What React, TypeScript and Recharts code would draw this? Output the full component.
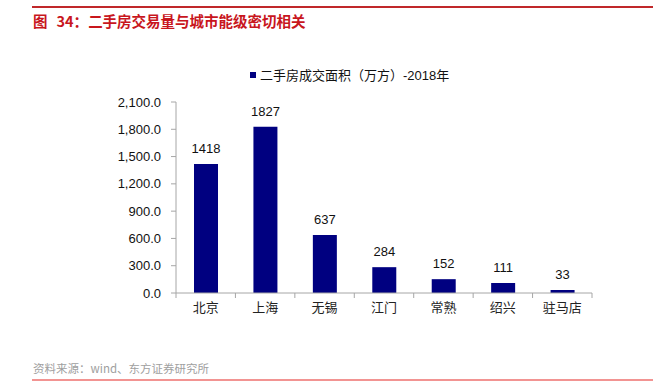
import { Bar, BarChart, LabelList, XAxis, YAxis } from 'recharts'

const cities = ['北京', '上海', '无锡', '江门', '常熟', '绍兴', '驻马店']
const areaValues = [1418, 1827, 637, 284, 152, 111, 33]
const yTicks = [0, 300, 600, 900, 1200, 1500, 1800, 2100]
const seriesName = '二手房成交面积（万方）-2018年'
const titleNo = '34：'
const titleText = '二手房交易量与城市能级密切相关'
const source = '资料来源：wind、东方证券研究所'

const data = cities.map((city, i) => ({ city, value: areaValues[i] }))

const axisColor = '#a6a6a6'
const barColor = '#000080'
const font = '"Liberation Sans", Arial, "Noto Sans CJK SC", sans-serif'
const cjkFont = '"Noto Sans CJK SC", sans-serif'

// category labels with tick marks on the band edges, like the original
function CityTick(props: any) {
  const { x, y, payload, index, width, visibleTicksCount } = props
  const half = width / visibleTicksCount / 2
  return (
    <g>
      <line x1={x - half} x2={x - half} y1={y - 8} y2={y - 3} stroke={axisColor} />
      {index === visibleTicksCount - 1 && (
        <line x1={x + half} x2={x + half} y1={y - 8} y2={y - 3} stroke={axisColor} />
      )}
      <text x={x} y={y + 11} textAnchor="middle" fontSize={13} fill="#222" fontFamily={cjkFont}>
        {payload.value}
      </text>
    </g>
  )
}

export default function App() {
  return (
    <div style={{ position: 'absolute', left: 0, top: 0, width: 660, height: 388, background: '#fff', fontFamily: font }}>
      <div style={{ position: 'absolute', left: 32, top: 6, width: 621, height: 2, background: '#c0282a' }} />
      <div style={{ position: 'absolute', left: 33, top: 10, fontSize: 14.5, fontWeight: 'bold', color: '#c8161d', fontFamily: cjkFont, whiteSpace: 'pre' }}>
        <span style={{ marginRight: 9 }}>图</span>{titleNo}{titleText}
      </div>
      <div style={{ position: 'absolute', left: 250, top: 65, display: 'flex', alignItems: 'center', fontSize: 13, color: '#111', fontFamily: font }}>
        <span style={{ display: 'inline-block', width: 6, height: 6, background: barColor, marginRight: 4 }} />
        {seriesName}
      </div>
      <div style={{ position: 'absolute', left: 33, top: 360, fontSize: 11.5, color: '#a0a0a0', fontFamily: cjkFont }}>
        {source}
      </div>
      <div style={{ position: 'absolute', left: 32, top: 379, width: 621, height: 2, background: '#f29492' }} />
      <div style={{ position: 'absolute', left: 0, top: 0 }}>
        <BarChart width={660} height={388} data={data} margin={{ top: 102, right: 68, left: 106, bottom: 65 }}>
          <XAxis
            dataKey="city"
            stroke={axisColor}
            tickLine={false}
            tick={<CityTick />}
            height={30}
            interval={0}
          />
          <YAxis
            domain={[0, 2100]}
            ticks={yTicks}
            stroke={axisColor}
            tickSize={5}
            tickMargin={10}
            width={70}
            tick={{ fill: '#111', fontSize: 13, fontFamily: font }}
            tickFormatter={(v: number) => v.toLocaleString('en-US', { minimumFractionDigits: 1, maximumFractionDigits: 1 })}
          />
          <Bar dataKey="value" name={seriesName} fill={barColor} barSize={24} isAnimationActive={false}>
            <LabelList dataKey="value" position="top" offset={11} fill="#111" fontSize={13} fontFamily={font} />
          </Bar>
        </BarChart>
      </div>
    </div>
  )
}
